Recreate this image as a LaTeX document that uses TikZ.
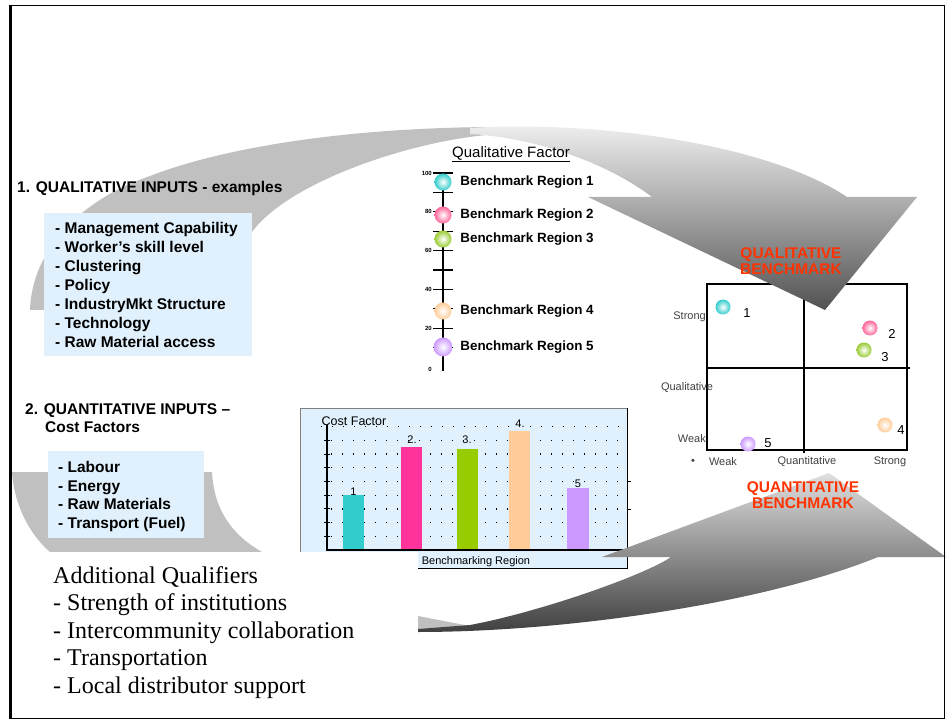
\documentclass[tikz,border=0pt]{standalone}
\usepackage{fontspec}
\setmainfont{Liberation Sans}
\newfontfamily\timesfont{Liberation Serif}
\usetikzlibrary{positioning}

\definecolor{bandgray}{HTML}{C0C0C0}
\definecolor{boxblue}{HTML}{E0F1FD}
\definecolor{benchred}{HTML}{FF3300}
\definecolor{rcyan}{HTML}{33CCCC}
\definecolor{rpink}{HTML}{FF6699}
\definecolor{rmagenta}{HTML}{FF3399}
\definecolor{rgreen}{HTML}{99CC33}
\definecolor{rlime}{HTML}{99CC00}
\definecolor{rpeach}{HTML}{FFCC99}
\definecolor{rlilac}{HTML}{CC99FF}

\tikzset{
  regdot/.style={circle, inner sep=0pt, minimum size=17pt, inner color=white, outer color=#1},
  matdot/.style={circle, inner sep=0pt, minimum size=15pt, inner color=white, outer color=#1},
  dotgrid/.style={line width=1.3pt, dash pattern=on 1.3pt off 9.7pt},
}

\begin{document}
\begin{tikzpicture}[x=1pt,y=-1pt]
  \useasboundingbox (0,0) rectangle (946,722);

  % benchmark matrix
  \draw[line width=1.3pt] (707,284) rectangle (907,450);
  \draw[line width=1.3pt] (804,284) -- (804,453);
  \draw[line width=1.3pt] (707,368) -- (910,368);

  % upper curved arrow
  \fill[bandgray] (30,310) .. controls (32,250) and (80,200) .. (150,176)
    .. controls (230,145) and (360,127) .. (500,127) -- (500,134)
    .. controls (420,138) and (290,180) .. (252,232)
    .. controls (235,260) and (222,285) .. (215,310) -- cycle;
  \shade[top color=gray!10, bottom color=black!68] (470,128)
    .. controls (600,120) and (770,145) .. (847,197) -- (917,197) -- (825,310)
    -- (588,197) -- (652,197) .. controls (610,165) and (540,138) .. (470,134) -- cycle;

  \fill[bandgray] (12,472) -- (212,472) .. controls (214,510) and (232,535) .. (262,552)
    -- (50,552) .. controls (30,535) and (14,505) .. (12,472) -- cycle;

  % cost factor chart
  \fill[boxblue] (300,408) rectangle (627,568);
  \draw[gray, line width=1pt] (627,408) -- (300,408) -- (300,568);
  \draw[line width=1pt] (627,408) -- (627,568) -- (300,568);
  \draw[line width=1pt] (627,481) -- (631,481) (627,509) -- (631,509);
  \draw[dotgrid] (331,536.3) -- (625,536.3) (331,522.6) -- (625,522.6)
    (331,508.9) -- (625,508.9) (331,495.2) -- (625,495.2) (331,481.5) -- (625,481.5)
    (331,467.8) -- (625,467.8) (331,454.1) -- (625,454.1) (331,440.4) -- (625,440.4)
    (321,426.7) -- (625,426.7);
  \draw[line width=1pt] (324,536.3) -- (330,536.3) (324,522.6) -- (330,522.6)
    (324,508.9) -- (330,508.9) (324,495.2) -- (330,495.2) (324,481.5) -- (330,481.5)
    (324,467.8) -- (330,467.8) (324,454.1) -- (330,454.1) (324,440.4) -- (330,440.4);
  \fill[rcyan] (343,550) rectangle (364,495);
  \fill[rmagenta] (401,550) rectangle (422,447);
  \fill[rlime] (457,550) rectangle (478,449);
  \fill[rpeach] (509,550) rectangle (530,431);
  \fill[rlilac] (567,550) rectangle (589,488);
  \draw[line width=1.3pt] (327,425) -- (327,550) -- (625,550);

  \begin{scope}[every node/.style={inner sep=0pt, font=\fontsize{11}{13}\selectfont}]
    \node (b1) at (353.5,492) {1};
    \node (b2) at (412,440) {2.};
    \node (b3) at (467,440) {3.};
    \node (b4) at (520,424) {4.};
    \node (b5) at (578,484) {5};
    \node[font=\fontsize{12.5}{15}\selectfont] (cf) at (354,421) {Cost Factor};
    \node (br) at (476,563) {\underline{Benchmarking Region}};
  \end{scope}

  % lower curved arrow
  \fill[bandgray] (418,616) -- (475,627) -- (418,632) -- cycle;
  \shade[top color=gray!25, bottom color=black!75] (418,632)
    .. controls (560,632) and (760,605) .. (878,557) -- (946,557) -- (829,473)
    -- (602,557) -- (671,557) .. controls (645,575) and (540,612) .. (470,625)
    -- (418,629) -- cycle;

  \fill[white] (12,552) rectangle (418,714);

  \begin{scope}[every node/.style={anchor=base west, inner sep=0pt, font=\timesfont\fontsize{24}{28}\selectfont}]
    \node (a0) at (53,583) {Additional Qualifiers};
    \node (a1) at (53,610.5) {- Strength of institutions};
    \node (a2) at (53,638) {- Intercommunity collaboration};
    \node (a3) at (53,665.5) {- Transportation};
    \node (a4) at (53,693) {- Local distributor support};
  \end{scope}

  % input boxes
  \fill[boxblue] (44,213) rectangle (252,356);
  \fill[boxblue] (48,451) rectangle (204,538);
  \begin{scope}[every node/.style={anchor=base west, inner sep=0pt, font=\fontsize{15.5}{19}\selectfont\bfseries}]
    \node (t1) at (17,192.6) {1. QUALITATIVE INPUTS - examples};
    \node (q1) at (55,233.6) {- Management Capability};
    \node (q2) at (55,252.6) {- Worker's skill level};
    \node (q3) at (55,271.6) {- Clustering};
    \node (q4) at (55,290.6) {- Policy};
    \node (q5) at (55,309.6) {- IndustryMkt Structure};
    \node (q6) at (55,328.6) {- Technology};
    \node (q7) at (55,347.6) {- Raw Material access};
    \node (t2) at (25,414.6) {2. QUANTITATIVE INPUTS –};
    \node (t3) at (45,432.6) {Cost Factors};
    \node (c1) at (58,472.3) {- Labour};
    \node (c2) at (58,491) {- Energy};
    \node (c3) at (58,509.7) {- Raw Materials};
    \node (c4) at (58,528.4) {- Transport (Fuel)};
  \end{scope}

  % qualitative factor scale
  \node[inner sep=0pt, font=\fontsize{15}{18}\selectfont] (qf) at (511,154) {\underline{Qualitative Factor}};
  \draw[line width=1.3pt] (443,173) -- (443,371);
  \draw[line width=1.1pt] (433,173) -- (453,173) (433,192.4) -- (453,192.4)
    (433,211.8) -- (453,211.8) (433,231.2) -- (453,231.2) (433,250.6) -- (453,250.6)
    (433,270) -- (453,270) (433,289.4) -- (453,289.4) (433,308.8) -- (453,308.8)
    (433,328.2) -- (453,328.2) (433,347.6) -- (453,347.6);
  \begin{scope}[every node/.style={anchor=east, inner sep=0pt, font=\fontsize{6}{7}\selectfont\bfseries}]
    \node (s100) at (432,173) {100};
    \node (s80) at (432,211.8) {80};
    \node (s60) at (432,250.6) {60};
    \node (s40) at (432,289.4) {40};
    \node (s20) at (432,328.2) {20};
    \node (s0) at (432,369) {0};
  \end{scope}
  \node[regdot=rcyan] (r1) at (443,182) {};
  \node[regdot=rpink] (r2) at (443,215) {};
  \node[regdot=rgreen] (r3) at (443,239) {};
  \node[regdot=rpeach] (r4) at (443,311) {};
  \node[regdot=rlilac, minimum size=19pt] (r5) at (443,347) {};
  \begin{scope}[every node/.style={inner sep=0pt, font=\fontsize{13.4}{16}\selectfont\bfseries}]
    \node[right=8.5pt of r1] (l1) {Benchmark Region 1};
    \node[right=8.5pt of r2] (l2) {Benchmark Region 2};
    \node[right=8.5pt of r3] (l3) {Benchmark Region 3};
    \node[right=8.5pt of r4] (l4) {Benchmark Region 4};
    \node[right=7.5pt of r5] (l5) {Benchmark Region 5};
  \end{scope}

  % matrix points and labels
  \node[matdot=rcyan] (m1) at (723,307) {};
  \node[matdot=rpink] (m2) at (870,328) {};
  \node[matdot=rgreen] (m3) at (864,350) {};
  \node[matdot=rpeach] (m4) at (885,425) {};
  \node[matdot=rlilac] (m5) at (748,444) {};
  \begin{scope}[every node/.style={inner sep=0pt, font=\fontsize{13}{15}\selectfont}]
    \node (n1) at (747,313) {1};
    \node (n2) at (892,334) {2};
    \node (n3) at (885,357) {3};
    \node (n4) at (901,430) {4};
    \node (n5) at (768,443) {5};
  \end{scope}
  \begin{scope}[every node/.style={inner sep=0pt, text=black!75, font=\fontsize{11}{13}\selectfont}]
    \node[anchor=east] (xs) at (706,317) {Strong};
    \node (xq) at (687,388) {Qualitative};
    \node[anchor=east] (xw) at (706,439) {Weak};
    \node (yd) at (693,462) {•};
    \node (yw) at (723,462) {Weak};
    \node (yq) at (807,462) {Quantitative};
    \node (ys) at (890,462) {Strong};
  \end{scope}
  \begin{scope}[every node/.style={align=center, inner sep=0pt, text=benchred, font=\fontsize{15.5}{16.5}\selectfont\bfseries}]
    \node (qlb) at (791,261) {QUALITATIVE\\BENCHMARK};
    \node (qnb) at (803,495) {QUANTITATIVE\\BENCHMARK};
  \end{scope}

  % frame
  \draw[line width=1pt] (9,6) rectangle (944,718);
  \draw[line width=3pt] (10,5) -- (10,719);
\end{tikzpicture}
\end{document}
